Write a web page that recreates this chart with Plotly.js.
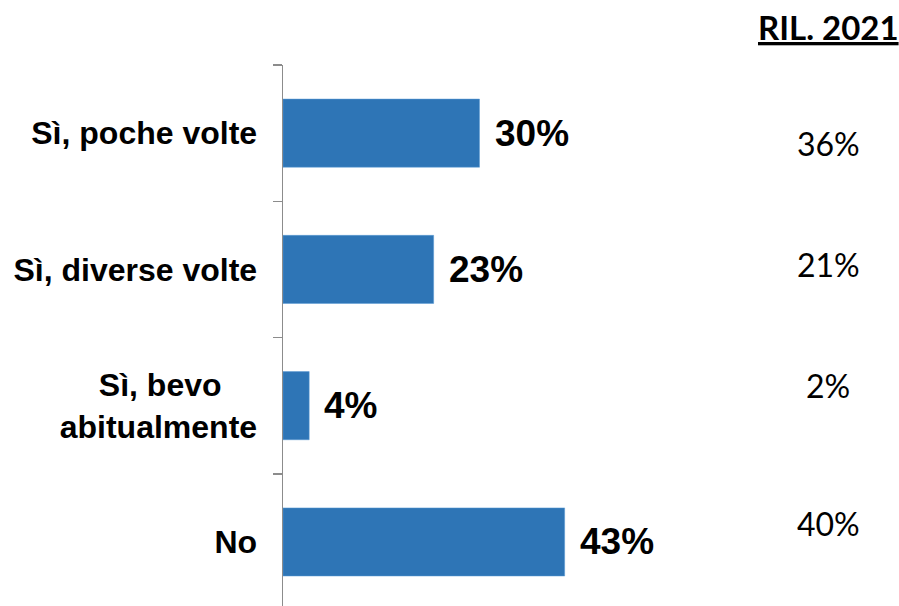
<!DOCTYPE html>
<html>
<head>
<meta charset="utf-8">
<script src="https://cdn.plot.ly/plotly-3.0.1.min.js"></script>
<style>html,body{margin:0;padding:0;background:#fff;}#chart{width:899px;height:606px;}</style>
</head>
<body>
<div id="chart"></div>
<script>
// ---- data ----
const categories = ["Sì, poche volte", "Sì, diverse volte", "Sì, bevo<br>abitualmente", "No"];
const values = [30, 23, 4, 43];
const valueLabels = ["30%", "23%", "4%", "43%"];
const prevTitle = "RIL. 2021";
const prevValues = [36, 21, 2, 40];
const prevLabels = ["36%", "21%", "2%", "40%"];

// ---- layout helpers ----
const NB = "\u00A0";
const labelAlias = {};
labelAlias[categories[2]] = "Sì, bevo" + NB.repeat(4) + "<br>abitualmente";

const prevY = [0.855, 0.632, 0.4085, 0.1516];

const annotations = [];
for (let i = 0; i < categories.length; i++) {
  annotations.push({
    x: values[i], y: categories[i], xref: "x", yref: "y",
    text: "<b>" + valueLabels[i] + "</b>", showarrow: false,
    xanchor: "left", yanchor: "middle", xshift: 13,
    font: {family: "Liberation Sans, Arial, sans-serif", size: 37, color: "#000"}
  });
  annotations.push({
    x: 1.387, y: prevY[i], xref: "paper", yref: "paper",
    text: prevLabels[i], showarrow: false,
    xanchor: "center", yanchor: "middle",
    font: {family: "Lato, sans-serif", size: 32, color: "#000"}
  });
}
annotations.push({
  x: 1.387, y: 1.07, xref: "paper", yref: "paper",
  text: "<b>" + prevTitle + "</b>", showarrow: false,
  xanchor: "center", yanchor: "middle",
  font: {family: "Lato, sans-serif", size: 33, color: "#000", lineposition: "under"}
});

const trace = {
  type: "bar", orientation: "h",
  x: values, y: categories,
  width: 0.5,
  marker: {color: "#2E75B6", line: {color: "#5B9BD5", width: 0.5}},
  hoverinfo: "skip"
};

const layout = {
  width: 899, height: 606,
  margin: {l: 283, r: 223, t: 65, b: 0, pad: 0},
  paper_bgcolor: "#fff", plot_bgcolor: "#fff",
  showlegend: false,
  xaxis: {range: [0, 60], visible: false, fixedrange: true},
  yaxis: {
    type: "category", categoryorder: "array", categoryarray: categories,
    range: [3.47, -0.5], autorange: false,
    showline: true, linecolor: "#8c8c8c", linewidth: 1.5,
    ticks: "outside", ticklen: 9, tickwidth: 1.5, tickcolor: "#8c8c8c",
    tickson: "boundaries", showgrid: false, zeroline: false,
    ticklabelstandoff: 18,
    labelalias: labelAlias,
    tickfont: {family: "Liberation Sans, Arial, sans-serif", size: 32, color: "#000", weight: "bold"}
  },
  annotations: annotations
};

Plotly.newPlot("chart", [trace], layout, {displayModeBar: false, staticPlot: true});
</script>
</body>
</html>
